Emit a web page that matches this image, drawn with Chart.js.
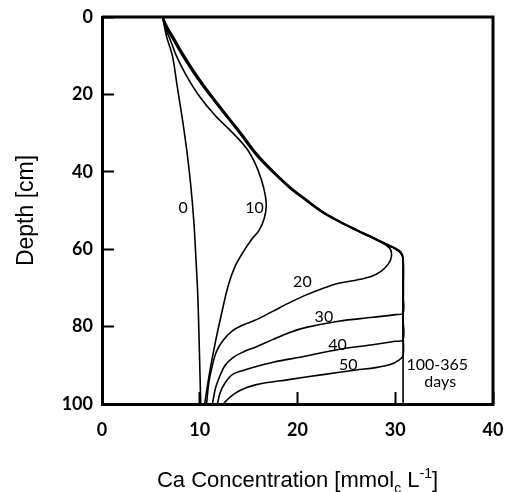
<!DOCTYPE html>
<html>
<head>
<meta charset="utf-8">
<script src="https://cdn.jsdelivr.net/npm/chart.js@4.4.1/dist/chart.umd.min.js"></script>
<style>
  html, body { margin: 0; padding: 0; background: #fff; }
</style>
</head>
<body>
<canvas id="caChart" width="512" height="492"></canvas>
<script>
// Axis ranges / ticks
const xTicks = [0, 10, 20, 30, 40];
const depthTicks = [0, 20, 40, 60, 80, 100];

// Ca profiles, [concentration, depth]
const day0 = [[6.2,0],[6.6,5],[7.2,10],[7.7,18],[8.2,26],[8.7,35],[9.1,44],[9.4,53],[9.6,62],[9.8,72],[9.95,85],[10.1,100]];
const day10 = [[6.2,0],[6.5,3],[7.0,6],[7.6,10],[8.6,15],[10.0,20.6],[11.6,25.5],[13.4,30],[14.8,34],[15.7,38],[16.3,42],[16.7,46],[16.8,49],[16.6,52],[16.1,55],[15.3,57.5],[14.5,60.5],[13.6,64.5],[12.9,69.5],[12.2,77],[11.6,84],[11.0,92],[10.5,100]];
const day20 = [[6.2,0],[6.6,3],[7.3,6],[8.1,9.5],[9.1,13.5],[10.2,17.5],[11.4,21.5],[12.8,26],[14.2,30.5],[15.7,35.5],[17.4,40],[19.1,44],[20.9,47.5],[22.6,50.6],[24.3,53],[25.9,55],[27.4,56.8],[28.7,58.4],[29.5,60],[29.6,62],[29.3,63.8],[28.6,65.6],[27.6,67],[26,68],[24.2,68.8],[22.5,70.2],[20.9,71.8],[19.2,73.8],[17.5,76],[15.8,78.2],[14.5,79.5],[13.4,81],[12.4,83.5],[11.7,86.5],[11.2,91],[10.9,95],[10.7,100]];
const day30 = [[6.2,0],[6.7,3],[7.4,6],[8.2,9.5],[9.2,13.5],[10.3,17.5],[11.5,21.5],[12.9,26],[14.3,30.5],[15.8,35.5],[17.5,40],[19.2,44],[21.0,47.5],[22.7,50.6],[24.4,53],[26,55],[27.5,56.8],[28.8,58.4],[29.8,59.6],[30.5,60.8],[30.8,62.5],[30.8,66],[30.8,72],[30.8,76.5],[30,76.9],[27.7,77.6],[24.2,78.6],[20.9,80.2],[19.2,81.5],[17.5,83.3],[15.8,85.2],[14.5,86.5],[13.4,88],[12.6,90],[12.1,92.5],[11.6,96],[11.3,100]];
const day40 = [[6.2,0],[6.7,3],[7.4,6],[8.2,9.5],[9.2,13.5],[10.3,17.5],[11.5,21.5],[12.9,26],[14.3,30.5],[15.8,35.5],[17.5,40],[19.2,44],[21.0,47.5],[22.7,50.6],[24.4,53],[26,55],[27.5,56.8],[28.8,58.4],[29.8,59.6],[30.5,60.8],[30.8,62.5],[30.8,70],[30.8,78],[30.8,83.4],[30,83.8],[27.7,84.7],[24.2,85.9],[20.9,87.6],[17.5,89.2],[15.8,90.3],[14.5,91.3],[13.4,92.3],[12.6,94.5],[12.1,97],[11.8,100]];
const day50 = [[6.2,0],[6.8,3],[7.5,6],[8.3,9.5],[9.3,13.5],[10.4,17.5],[11.6,21.5],[13.0,26],[14.4,30.5],[15.9,35.5],[17.6,40],[19.3,44],[21.1,47.5],[22.8,50.6],[24.5,53],[26.1,55],[27.6,56.8],[28.9,58.4],[29.9,59.6],[30.6,60.8],[30.8,62.5],[30.8,72],[30.8,82],[30.8,87.5],[30.3,88.8],[29.5,89.8],[28,90.6],[26,91.2],[22.6,92.4],[19.1,93.7],[15.8,95],[14.1,96.5],[13.1,98.2],[12.4,100]];
const day365 = [[6.2,0],[6.7,3],[7.4,6],[8.2,9.5],[9.2,13.5],[10.3,17.5],[11.5,21.5],[12.9,26],[14.3,30.5],[15.8,35.5],[17.5,40],[19.2,44],[21.0,47.5],[22.7,50.6],[24.4,53],[26,55],[27.5,56.8],[28.8,58.4],[29.8,59.6],[30.5,60.8],[30.8,62.5],[30.8,80],[30.8,100]];

const curves = [day0, day10, day20, day30, day40, day50, day365];
const curveNames = ['0', '10', '20', '30', '40', '50', '100-365'];

// text written next to the curves, anchored in data units
const curveNotes = [
  { text: '0', at: [8.3, 49.4] },
  { text: '10', at: [15.6, 49.4] },
  { text: '20', at: [20.5, 68.5] },
  { text: '30', at: [22.7, 77.5] },
  { text: '40', at: [24.1, 84.8] },
  { text: '50', at: [25.2, 89.9] },
  { text: '100-365', at: [34.3, 89.9] },
  { text: 'days', at: [34.6, 94.3] }
];

// box top/right, curve labels and x title with sub/superscript
const extras = {
  id: 'extras',
  afterDraw(chart) {
    const { ctx, chartArea: a, scales: { x, y } } = chart;
    ctx.save();
    ctx.strokeStyle = '#000';
    ctx.lineWidth = 3;
    ctx.beginPath();
    ctx.moveTo(a.left, a.top);
    ctx.lineTo(a.right, a.top);
    ctx.lineTo(a.right, a.bottom);
    ctx.stroke();

    ctx.fillStyle = '#000';
    ctx.font = '16px Lato';
    ctx.textAlign = 'center';
    ctx.textBaseline = 'middle';
    curveNotes.forEach(n => {
      ctx.fillText(n.text, x.getPixelForValue(n.at[0]), y.getPixelForValue(n.at[1]));
    });

    const parts = [
      { t: 'Ca Concentration [mmol', size: 22, dy: 0 },
      { t: 'c', size: 14, dy: 6 },
      { t: ' L', size: 22, dy: 0 },
      { t: '-1', size: 14, dy: -9 },
      { t: ']', size: 22, dy: 0 }
    ];
    ctx.textAlign = 'left';
    ctx.textBaseline = 'alphabetic';
    let total = 0;
    parts.forEach(p => {
      ctx.font = p.size + 'px "Liberation Sans"';
      p.w = ctx.measureText(p.t).width;
      total += p.w;
    });
    let px = (a.left + a.right) / 2 - total / 2;
    const base = 487;
    parts.forEach(p => {
      ctx.font = p.size + 'px "Liberation Sans"';
      ctx.fillText(p.t, px, base + p.dy);
      px += p.w;
    });
    ctx.restore();
  }
};

new Chart(document.getElementById('caChart'), {
  type: 'scatter',
  data: {
    datasets: curves.map((c, i) => ({
      label: curveNames[i],
      data: c.map(([cx, d]) => ({ x: cx, y: d })),
      showLine: true,
      borderColor: '#000',
      borderWidth: 1.6,
      pointRadius: 0,
      tension: 0.35,
      fill: false
    }))
  },
  options: {
    responsive: false,
    animation: false,
    layout: { padding: { top: 17, right: 19, left: 0, bottom: 0 } },
    plugins: { legend: { display: false }, tooltip: { enabled: false } },
    scales: {
      x: {
        type: 'linear',
        min: xTicks[0],
        max: xTicks[xTicks.length - 1],
        afterBuildTicks: s => { s.ticks = xTicks.map(v => ({ value: v })); },
        afterFit: s => { s.height = 88; s.paddingLeft = 0; s.paddingRight = 0; },
        border: { display: true, width: 3, color: '#000' },
        grid: { drawOnChartArea: false, drawTicks: true, tickLength: -12, tickWidth: 2, color: '#000' },
        ticks: { color: '#000', padding: 27, font: { family: 'Lato', weight: 'bold', size: 18 } },
        title: { display: false }
      },
      y: {
        type: 'linear',
        reverse: true,
        min: depthTicks[0],
        max: depthTicks[depthTicks.length - 1],
        afterBuildTicks: s => { s.ticks = depthTicks.map(v => ({ value: v })); },
        afterFit: s => { s.width = 102; s.paddingTop = 0; s.paddingBottom = 0; },
        border: { display: true, width: 3, color: '#000' },
        grid: { drawOnChartArea: false, drawTicks: true, tickLength: -12, tickWidth: 2, color: '#000' },
        ticks: { color: '#000', padding: 21, font: { family: 'Lato', weight: 'bold', size: 18 } },
        title: {
          display: true,
          text: 'Depth [cm]',
          color: '#000',
          padding: { top: 13, bottom: 0 },
          font: { family: 'Liberation Sans', size: 23, weight: 'normal' }
        }
      }
    }
  },
  plugins: [extras]
});
</script>
</body>
</html>
